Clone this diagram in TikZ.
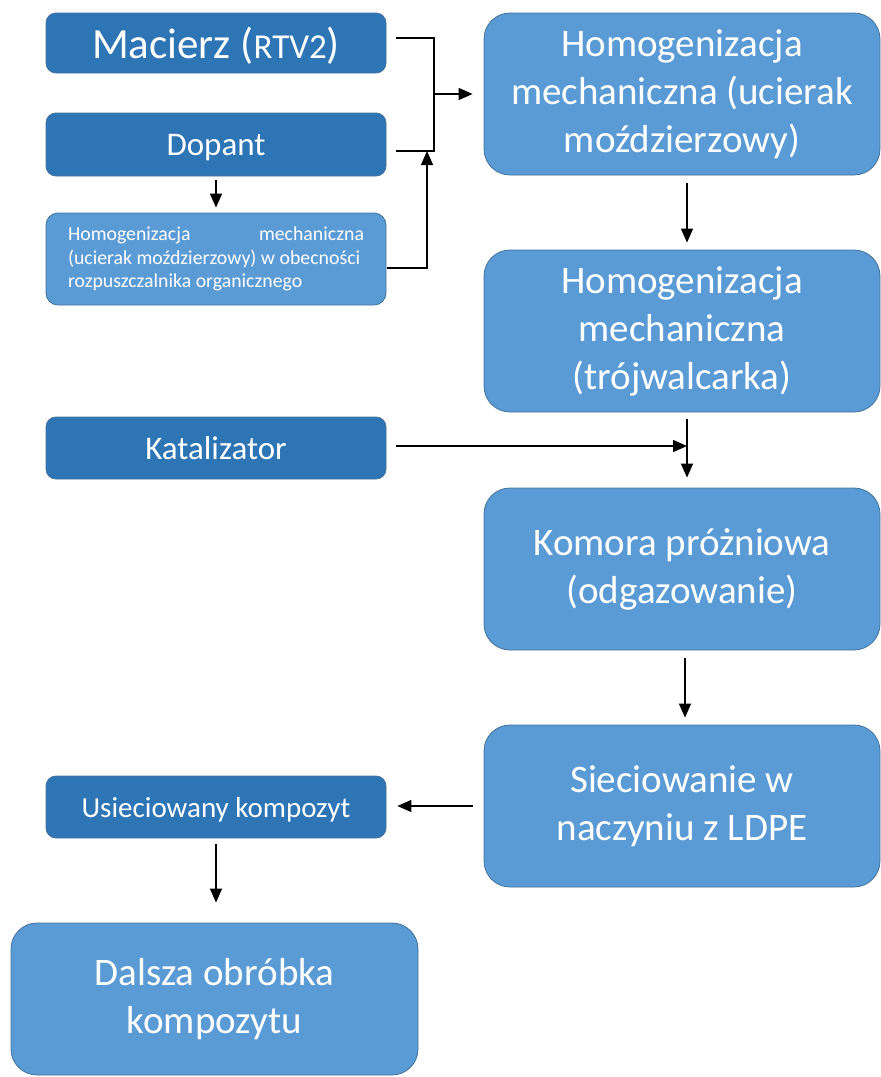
\documentclass[tikz,border=0pt]{standalone}
\usepackage{fontspec}
\setmainfont{Carlito}
\usetikzlibrary{arrows.meta}
\definecolor{darkbox}{HTML}{2E75B6}
\definecolor{lightbox}{HTML}{5B9BD5}
\definecolor{boxedge}{HTML}{41719C}
\tikzset{
  base/.style={draw=boxedge, line width=0.8pt, text=white, inner sep=0pt, align=center},
  leftbox/.style={base, fill=darkbox, rounded corners=10pt, minimum width=340pt, text depth=0pt},
  smallbox/.style={base, fill=lightbox, rounded corners=12pt, minimum width=340pt},
  bigbox/.style={base, fill=lightbox, rounded corners=26pt, minimum width=396pt, minimum height=162pt,
    font=\fontsize{39}{48}\selectfont},
  arr/.style={line width=1.4pt, -{Triangle[length=14pt,width=12pt]}},
  plain/.style={line width=1.4pt}
}
\begin{document}
\begin{tikzpicture}[x=1pt,y=-1pt]
\useasboundingbox (0,0) rectangle (881,1077);
% left column
\node[leftbox, minimum height=60pt] (mac) at (216,43)
  {{\fontsize{43}{52}\selectfont Macierz (}{\fontsize{35}{42}\selectfont RTV2}{\fontsize{43}{52}\selectfont )}};
\node[leftbox, minimum height=63pt, font=\fontsize{33}{40}\selectfont] (dop) at (216,144.5) {Dopant};
\node[smallbox, minimum height=92pt, font=\fontsize{19.8}{23.5}\selectfont] (sm) at (216,259)
  {\parbox{296pt}{Homogenizacja\hfill mechaniczna\\(ucierak moździerzowy) w obecności\\rozpuszczalnika organicznego}};
\node[leftbox, minimum height=62pt, font=\fontsize{33}{40}\selectfont] (kat) at (216,448) {Katalizator};
\node[leftbox, minimum height=62pt, font=\fontsize{29}{36}\selectfont] (usi) at (216,807) {Usieciowany kompozyt};
\node[bigbox, minimum width=407pt, minimum height=152pt, rounded corners=26pt] (dal) at (214.5,999)
  {Dalsza obróbka\\kompozytu};
% right column
\node[bigbox] (h1) at (682,94) {Homogenizacja\\mechaniczna (ucierak\\moździerzowy)};
\node[bigbox] (h2) at (682,331) {Homogenizacja\\mechaniczna\\(trójwalcarka)};
\node[bigbox] (kom) at (682,569) {Komora próżniowa\\(odgazowanie)};
\node[bigbox] (sie) at (682,806) {Sieciowanie w\\naczyniu z LDPE};
% connectors
\coordinate (bt) at (434,38);
\coordinate (bb) at (434,151);
\coordinate (up) at (427,151);
\draw[plain] ([xshift=10pt]mac.east |- bt) -- (bt) -- (bb) -- ([xshift=10pt]dop.east |- bb);
\draw[arr] (bt |- h1.west) -- ([xshift=-11pt]h1.west);
\draw[arr] ([xshift=1pt,yshift=-9pt]sm.east) -| (up);
\draw[arr] ([yshift=-4pt]dop.south) -- ([yshift=5pt]sm.north);
\draw[arr] ([xshift=5pt,yshift=-8pt]h1.south) -- ([xshift=5pt,yshift=7pt]h2.north);
\draw[arr] ([xshift=5pt,yshift=-7pt]h2.south) -- ([xshift=5pt,yshift=10pt]kom.north);
\draw[arr] ([xshift=10pt,yshift=2pt]kat.east) -- ([xshift=5pt]h2.south |- {(0,446)});
\draw[arr] ([xshift=3pt,yshift=-8pt]kom.south) -- ([xshift=3pt,yshift=7pt]sie.north);
\draw[arr] ([xshift=-11pt]sie.west) -- ([xshift=11pt]sie.west -| usi.east);
\draw[arr] ([yshift=-6pt]usi.south) -- ([yshift=20pt]dal.north -| usi.south);
\end{tikzpicture}
\end{document}
